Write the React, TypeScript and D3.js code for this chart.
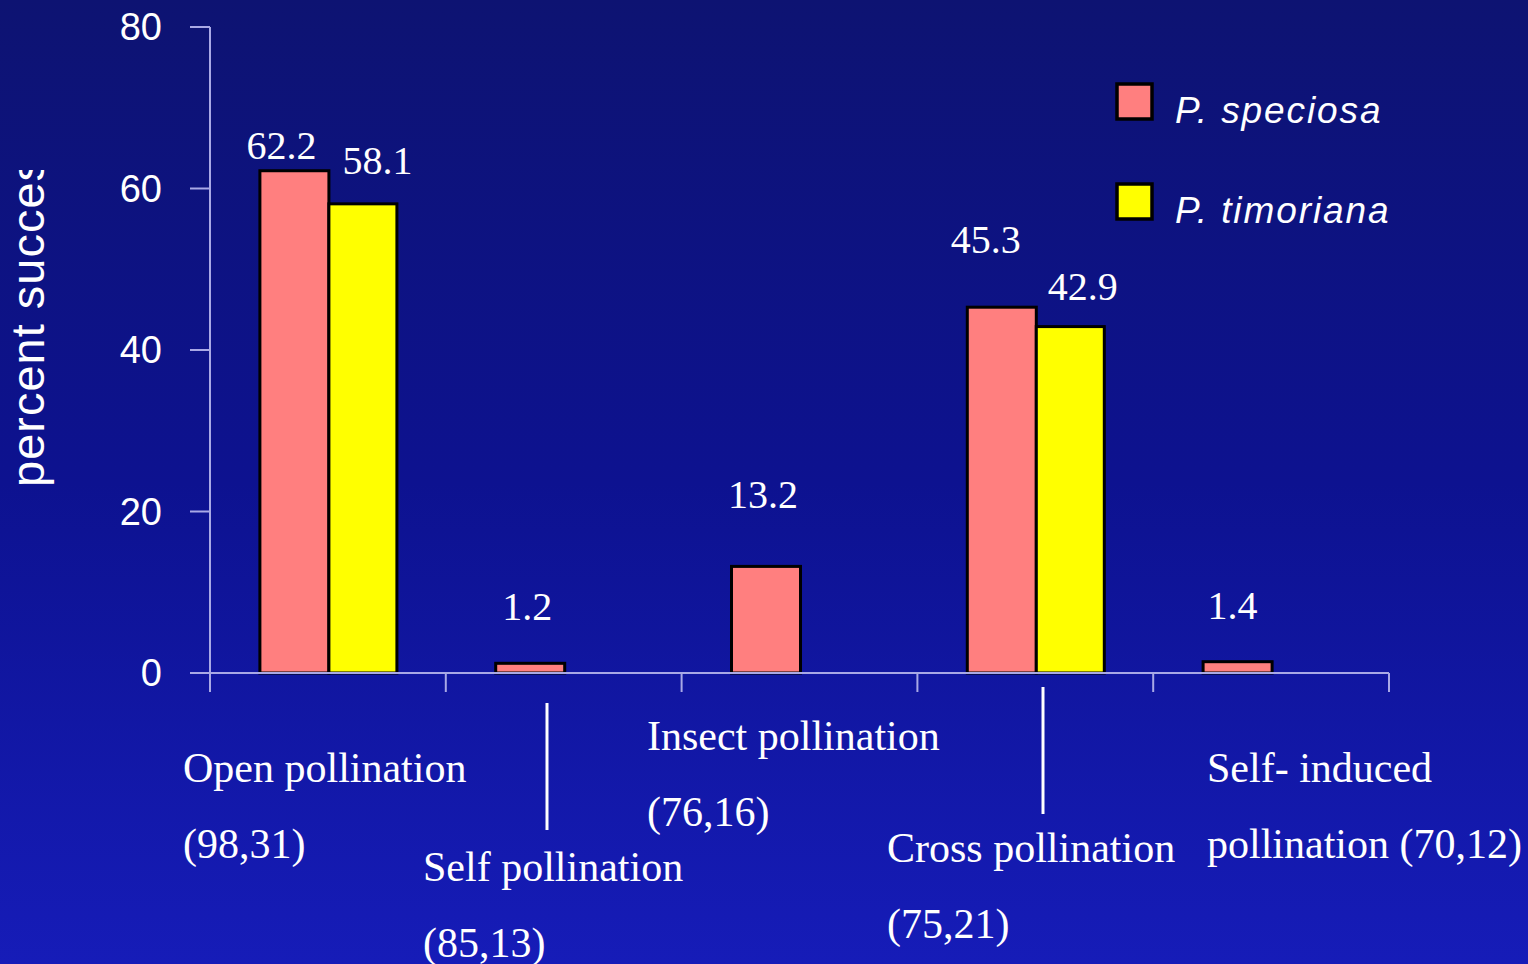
import React from "react";
import * as d3 from "d3";

// Pollination treatments (x axis) and percent success per species
const categories = ["Open", "Self", "Insect", "Cross", "SelfInduced"];
const speciosa = [62.2, 1.2, 13.2, 45.3, 1.4];
const timoriana: (number | null)[] = [58.1, null, null, 42.9, null];
const yTicks = [0, 20, 40, 60, 80];
const seriesNames = ["P. speciosa", "P. timoriana"];
const categoryLines = [
  ["Open pollination", "(98,31)"],
  ["Self pollination", "(85,13)"],
  ["Insect pollination", "(76,16)"],
  ["Cross pollination", "(75,21)"],
  ["Self- induced", "pollination (70,12)"],
];

// Layout: per-label nudges for value labels and category label placement
const speciosaLabelNudge = [
  [-12, 12],
  [-2, 43],
  [-2, 58],
  [-15, 54],
  [-4, 43],
];
const timorianaLabelNudge = [
  [15, 30],
  [0, 0],
  [0, 0],
  [13, 27],
  [0, 0],
];
const categoryLabelPos = [
  [183, 782],
  [423, 881],
  [647, 750],
  [887, 862],
  [1207, 782],
];

const W = 1528;
const H = 964;
const COLORS = ["#ff7f7f", "#ffff00"];
const AXIS = "#a9a9e6";

export default function App() {
  const y = d3.scaleLinear().domain([0, 80]).range([673, 27]);
  const x = d3.scaleBand<string>().domain(categories).range([210, 1389]).paddingInner(0).paddingOuter(0);
  const barW = 69;
  const edges = d3.range(categories.length + 1).map((i) => 210 + i * x.step());

  const sans = "'Liberation Sans', Arial, sans-serif";
  const serif = "'Liberation Serif', 'Times New Roman', serif";

  return (
    <svg
      width={W}
      height={H}
      viewBox={`0 0 ${W} ${H}`}
      style={{ position: "absolute", left: 0, top: 0, display: "block" }}
    >
      <defs>
        <linearGradient id="bg" x1="0" y1="0" x2="0" y2="1">
          <stop offset="0" stopColor="#0d1372" />
          <stop offset="0.5" stopColor="#0d1290" />
          <stop offset="1" stopColor="#161cb8" />
        </linearGradient>
        <clipPath id="ylabClip">
          <rect x={0} y={170} width={100} height={400} />
        </clipPath>
      </defs>
      <rect x={0} y={0} width={W} height={H} fill="url(#bg)" />

      {/* y axis */}
      <line x1={210} x2={210} y1={y(80)} y2={y(0)} stroke={AXIS} strokeWidth={2} />
      {yTicks.map((t) => (
        <g key={t}>
          <line x1={190} x2={210} y1={y(t)} y2={y(t)} stroke={AXIS} strokeWidth={2} />
          <text
            x={162}
            y={y(t) + 13}
            textAnchor="end"
            fill="#fff"
            fontFamily={sans}
            fontSize={38}
          >
            {t}
          </text>
        </g>
      ))}
      <g clipPath="url(#ylabClip)">
        <text
          transform={`translate(44,487) rotate(-90)`}
          fill="#fff"
          fontFamily={sans}
          fontSize={47}
          letterSpacing={1}
        >
          percent success
        </text>
      </g>

      {/* bars */}
      {categories.map((c, i) => {
        const cx = (x(c) as number) + x.bandwidth() / 2;
        const v1 = speciosa[i];
        const v2 = timoriana[i];
        return (
          <g key={c}>
            <rect
              x={cx - barW + 1}
              y={y(v1)}
              width={barW}
              height={y(0) - y(v1)}
              fill={COLORS[0]}
              stroke="#000"
              strokeWidth={3}
            />
            {v2 != null && (
              <rect
                x={cx + 1}
                y={y(v2)}
                width={barW - 1}
                height={y(0) - y(v2)}
                fill={COLORS[1]}
                stroke="#000"
                strokeWidth={3}
              />
            )}
          </g>
        );
      })}

      {/* x axis */}
      <line x1={210} x2={1389} y1={y(0)} y2={y(0)} stroke={AXIS} strokeWidth={2} />
      {edges.map((e, i) => (
        <line key={i} x1={e} x2={e} y1={y(0)} y2={y(0) + 19} stroke={AXIS} strokeWidth={2} />
      ))}

      {/* value labels */}
      {categories.map((c, i) => {
        const cx = (x(c) as number) + x.bandwidth() / 2;
        const v1 = speciosa[i];
        const v2 = timoriana[i];
        return (
          <g key={c} fill="#fff" fontFamily={serif} fontSize={40} textAnchor="middle">
            <text x={cx - barW / 2 + speciosaLabelNudge[i][0]} y={y(v1) - speciosaLabelNudge[i][1]}>
              {v1.toFixed(1)}
            </text>
            {v2 != null && (
              <text x={cx + barW / 2 + timorianaLabelNudge[i][0]} y={y(v2) - timorianaLabelNudge[i][1]}>
                {v2.toFixed(1)}
              </text>
            )}
          </g>
        );
      })}

      {/* category labels */}
      {categoryLines.map((lines, i) => (
        <g key={i} fill="#fff" fontFamily={serif} fontSize={42}>
          {lines.map((l, j) => (
            <text key={j} x={categoryLabelPos[i][0]} y={categoryLabelPos[i][1] + j * 76}>
              {l}
            </text>
          ))}
        </g>
      ))}
      <line x1={547} x2={547} y1={703} y2={830} stroke="#fff" strokeWidth={3} />
      <line x1={1043} x2={1043} y1={687} y2={814} stroke="#fff" strokeWidth={3} />

      {/* legend */}
      {seriesNames.map((n, i) => (
        <g key={n}>
          <rect
            x={1117}
            y={84 + i * 100}
            width={35}
            height={35}
            fill={COLORS[i]}
            stroke="#000"
            strokeWidth={3.5}
          />
          <text
            x={1175}
            y={123 + i * 100}
            fill="#fff"
            fontFamily={sans}
            fontStyle="italic"
            fontSize={37}
            letterSpacing={1.9}
          >
            {n}
          </text>
        </g>
      ))}
    </svg>
  );
}
